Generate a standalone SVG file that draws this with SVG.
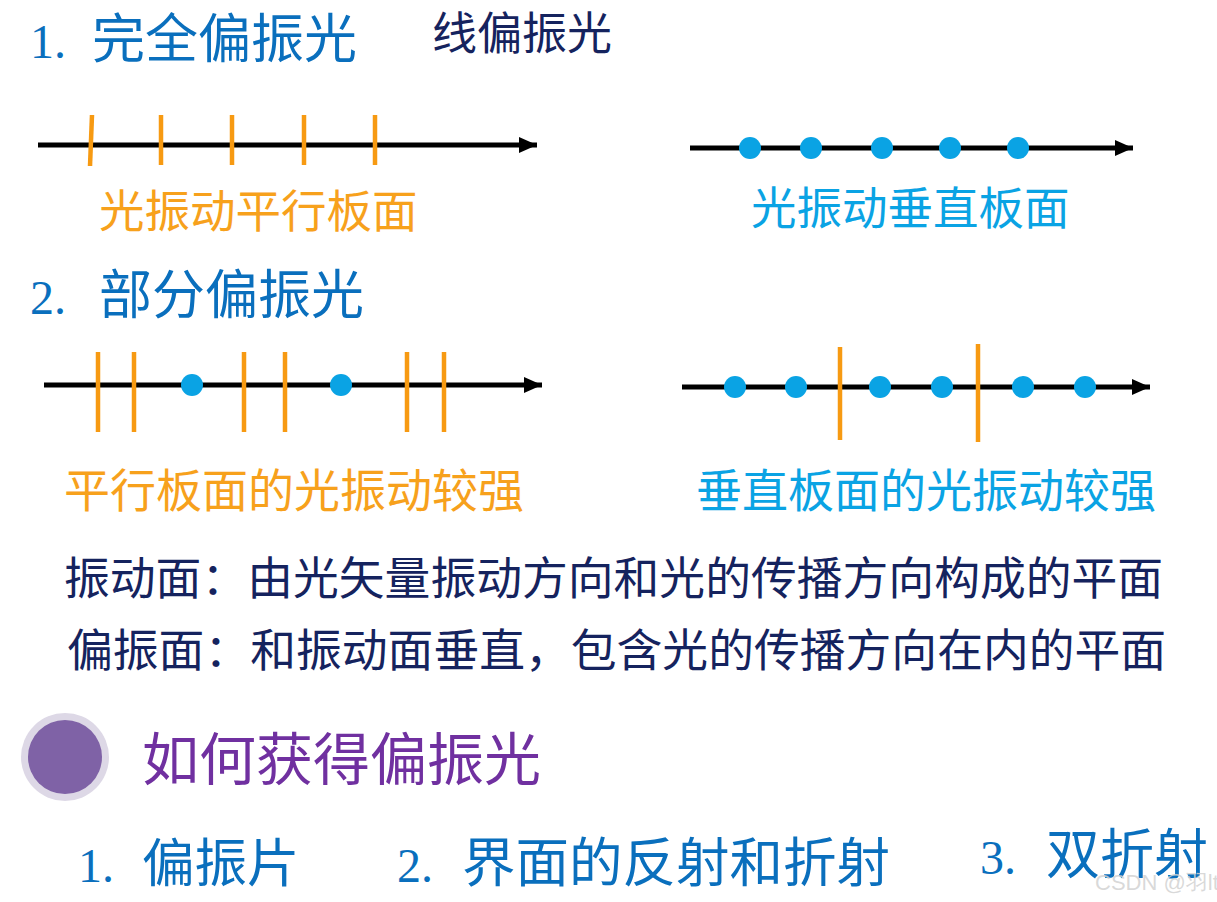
<svg xmlns="http://www.w3.org/2000/svg" width="1217" height="902" viewBox="0 0 1217 902">
<style>
.cjk{font-family:"Noto Sans CJK SC","Noto Sans",sans-serif;}
.num{font-family:"Liberation Serif",serif;}
.blue{fill:#0a6fbd;}
.navy{fill:#15235e;}
.orange{fill:#f7a11c;}
.cyan{fill:#0aa3e4;}
.purple{fill:#7030a0;}
.axis{stroke:#000;stroke-width:5;fill:none;}
.tick{stroke:#f79a12;stroke-width:4.5;}
.dot{fill:#0aa3e4;}
</style>
<defs>
<marker id="ah" markerUnits="userSpaceOnUse" markerWidth="20" markerHeight="16" refX="18" refY="8" orient="auto">
<path d="M0,0 L18,8 L0,16 Z" fill="#000"/>
</marker>
</defs>
<rect width="1217" height="902" fill="#fff"/>

<g id="title1">
<text class="num blue" x="30" y="58" font-size="48">1.</text>
<text class="cjk blue" x="92" y="58" font-size="53">完全偏振光</text>
</g>
<g id="label-linear">
<text class="cjk navy" x="432" y="50" font-size="45">线偏振光</text>
</g>

<g id="connectors">
<line class="axis" x1="38" y1="145" x2="537" y2="145" marker-end="url(#ah)"/>
<line class="axis" x1="690" y1="148" x2="1133" y2="148" marker-end="url(#ah)"/>
<line class="axis" x1="44" y1="385" x2="542" y2="385" marker-end="url(#ah)"/>
<line class="axis" x1="682" y1="387" x2="1150" y2="387" marker-end="url(#ah)"/>
</g>

<g id="wave-parallel">
<line class="tick" x1="92" y1="115" x2="90" y2="166"/>
<line class="tick" x1="161" y1="115" x2="161" y2="165"/>
<line class="tick" x1="232" y1="115" x2="232" y2="165"/>
<line class="tick" x1="304" y1="115" x2="304" y2="165"/>
<line class="tick" x1="375" y1="115" x2="375" y2="165"/>
<text class="cjk orange" x="99" y="228" font-size="45.5">光振动平行板面</text>
</g>

<g id="wave-perpendicular">
<circle class="dot" cx="750" cy="148" r="11"/>
<circle class="dot" cx="811" cy="148" r="11"/>
<circle class="dot" cx="882" cy="148" r="11"/>
<circle class="dot" cx="950" cy="148" r="11"/>
<circle class="dot" cx="1018" cy="148" r="11"/>
<text class="cjk cyan" x="751" y="225" font-size="45.5">光振动垂直板面</text>
</g>

<g id="title2">
<text class="num blue" x="30" y="314" font-size="48">2.</text>
<text class="cjk blue" x="99" y="314" font-size="53">部分偏振光</text>
</g>

<g id="partial-parallel">
<line class="tick" x1="98" y1="352" x2="98" y2="432"/>
<line class="tick" x1="134" y1="352" x2="134" y2="432"/>
<line class="tick" x1="244" y1="352" x2="244" y2="432"/>
<line class="tick" x1="285" y1="352" x2="285" y2="432"/>
<line class="tick" x1="407" y1="352" x2="407" y2="432"/>
<line class="tick" x1="444" y1="352" x2="444" y2="432"/>
<circle class="dot" cx="192" cy="385" r="11"/>
<circle class="dot" cx="341" cy="385" r="11"/>
<text class="cjk orange" x="64" y="507" font-size="46">平行板面的光振动较强</text>
</g>

<g id="partial-perpendicular">
<circle class="dot" cx="735" cy="387" r="11"/>
<circle class="dot" cx="796" cy="387" r="11"/>
<circle class="dot" cx="880" cy="387" r="11"/>
<circle class="dot" cx="942" cy="387" r="11"/>
<circle class="dot" cx="1023" cy="387" r="11"/>
<circle class="dot" cx="1085" cy="387" r="11"/>
<line class="tick" x1="840" y1="347" x2="840" y2="440"/>
<line class="tick" x1="978" y1="344" x2="978" y2="442"/>
<text class="cjk cyan" x="696" y="507" font-size="46">垂直板面的光振动较强</text>
</g>

<g id="definitions">
<text class="cjk navy" x="64" y="595" font-size="45.8">振动面：由光矢量振动方向和光的传播方向构成的平面</text>
<text class="cjk navy" x="67" y="667" font-size="45.8">偏振面：和振动面垂直，包含光的传播方向在内的平面</text>
</g>

<g id="section-how">
<circle cx="65" cy="757" r="44" fill="#ddd8e6"/>
<circle cx="65" cy="757" r="37" fill="#7f62a6"/>
<text class="cjk purple" x="142" y="780" font-size="57">如何获得偏振光</text>
</g>

<g id="method1">
<text class="num blue" x="78" y="882" font-size="48">1.</text>
<text class="cjk blue" x="142" y="882" font-size="52.5">偏振片</text>
</g>
<g id="method2">
<text class="num blue" x="397" y="882" font-size="48">2.</text>
<text class="cjk blue" x="462" y="882" font-size="53.5">界面的反射和折射</text>
</g>
<g id="method3">
<text class="num blue" x="980" y="874" font-size="48">3.</text>
<text class="cjk blue" x="1046" y="874" font-size="54">双折射</text>
</g>

<text x="1095" y="890" font-family="Liberation Sans, sans-serif" font-size="22" fill="#d2d2d2" fill-opacity="0.85">CSDN @羽lt</text>
</svg>
